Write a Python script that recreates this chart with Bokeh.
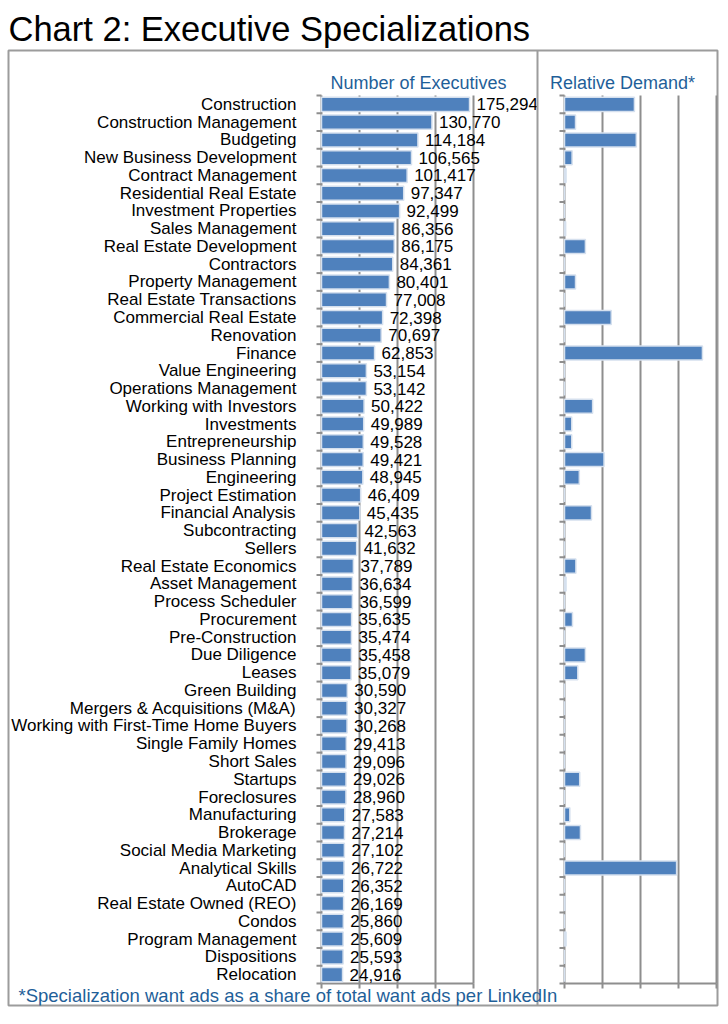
import math
from bokeh.plotting import figure
from bokeh.models import Range1d, Label, Span
from bokeh.embed import file_html
from bokeh.resources import INLINE
from bokeh.core.properties import value

# ---------------- data ----------------
categories = [
    "Construction", "Construction Management", "Budgeting", "New Business Development",
    "Contract Management", "Residential Real Estate", "Investment Properties",
    "Sales Management", "Real Estate Development", "Contractors", "Property Management",
    "Real Estate Transactions", "Commercial Real Estate", "Renovation", "Finance",
    "Value Engineering", "Operations Management", "Working with Investors", "Investments",
    "Entrepreneurship", "Business Planning", "Engineering", "Project Estimation",
    "Financial Analysis", "Subcontracting", "Sellers", "Real Estate Economics",
    "Asset Management", "Process Scheduler", "Procurement", "Pre-Construction",
    "Due Diligence", "Leases", "Green Building", "Mergers & Acquisitions (M&A)",
    "Working with First-Time Home Buyers", "Single Family Homes", "Short Sales",
    "Startups", "Foreclosures", "Manufacturing", "Brokerage", "Social Media Marketing",
    "Analytical Skills", "AutoCAD", "Real Estate Owned (REO)", "Condos",
    "Program Management", "Dispositions", "Relocation",
]
executives = [
    175294, 130770, 114184, 106565, 101417, 97347, 92499, 86356, 86175, 84361,
    80401, 77008, 72398, 70697, 62853, 53154, 53142, 50422, 49989, 49528,
    49421, 48945, 46409, 45435, 42563, 41632, 37789, 36634, 36599, 35635,
    35474, 35458, 35079, 30590, 30327, 30268, 29413, 29096, 29026, 28960,
    27583, 27214, 27102, 26722, 26352, 26169, 25860, 25609, 25593, 24916,
]
relative_demand = [
    1.84, 0.29, 1.89, 0.20, 0.04, 0.0, 0.0, 0.03, 0.55, 0.0,
    0.29, 0.0, 1.23, 0.0, 3.63, 0.0, 0.0, 0.74, 0.19, 0.19,
    1.04, 0.39, 0.0, 0.71, 0.0, 0.0, 0.30, 0.04, 0.0, 0.21,
    0.0, 0.55, 0.35, 0.0, 0.0, 0.0, 0.0, 0.0, 0.40, 0.0,
    0.14, 0.42, 0.0, 2.95, 0.0, 0.01, 0.0, 0.04, 0.0, 0.0,
]
exec_ticks = [45000, 90000, 135000, 180000]
demand_ticks = [1, 2, 3, 4]

title_text = "Chart 2: Executive Specializations"
left_heading = "Number of Executives"
right_heading = "Relative Demand*"
footnote = "*Specialization want ads as a share of total want ads per LinkedIn"

# ---------------- layout (pixels, page coordinates) ----------------
PAGE_X, PAGE_Y = 0, 0       # canvas origin on the page
W, H = 720, 1012
BL, BR, BT, BB = 8, 3, 50, 7
FRAME_W = W - BL - BR
FRAME_H = H - BT - BB
FRAME_X0 = PAGE_X + BL
FRAME_Y0 = PAGE_Y + BT
LEFT_ZERO = 321 - FRAME_X0
EXEC_PX = 152 / 180000.0
DEM_ZERO = 564 - FRAME_X0
DEM_PX = 38.0
ROWS_TOP = 95 - FRAME_Y0
ROW_H = 17.76

n = len(categories)
centers = [i + 0.5 for i in range(n)]
bounds = list(range(n + 1))


def px_exec(page_x):
    return (page_x - FRAME_X0 - LEFT_ZERO) / EXEC_PX


def px_row(page_y):
    return (page_y - FRAME_Y0 - ROWS_TOP) / ROW_H


x_range = Range1d(-LEFT_ZERO / EXEC_PX, (FRAME_W - LEFT_ZERO) / EXEC_PX)
y_range = Range1d((FRAME_H - ROWS_TOP) / ROW_H, -ROWS_TOP / ROW_H)

p = figure(width=W, height=H, x_range=x_range, y_range=y_range,
           x_axis_type=None, y_axis_type=None,
           output_backend="svg", toolbar_location=None)
p.extra_x_ranges = {"demand": Range1d(-DEM_ZERO / DEM_PX, (FRAME_W - DEM_ZERO) / DEM_PX)}
p.min_border_left = BL
p.min_border_right = BR
p.min_border_top = BT
p.min_border_bottom = BB
p.outline_line_color = "#9C9C9C"
p.outline_line_width = 2
p.background_fill_color = "white"
p.border_fill_color = "white"

p.title.text = title_text
p.title.text_font = "Liberation Sans"
p.title.text_font_size = "34.5px"
p.title.text_font_style = "normal"
p.title.text_color = "black"
p.title.standoff = 5
p.title.offset = 0

FONT = value("Liberation Sans")
GRID = "#8E8E8E"
BAR = "#4F81BD"
BAR_EDGE = "#D5E0EE"
BLUE_TXT = "#1F5F99"

# divider between panels
p.add_layout(Span(location=px_exec(537), dimension="height",
                  line_color="#9C9C9C", line_width=2))

# gridlines
p.segment(x0=exec_ticks, x1=exec_ticks, y0=0, y1=n, line_color=GRID, line_width=2)
p.segment(x0=demand_ticks, x1=demand_ticks, y0=0, y1=n, line_color=GRID, line_width=2,
          x_range_name="demand")

# axis lines
p.segment(x0=[0, 0], x1=[0, exec_ticks[-1]], y0=[0, n], y1=[n, n], line_color=GRID, line_width=2)
p.segment(x0=[0, 0], x1=[0, demand_ticks[-1]], y0=[0, n], y1=[n, n], line_color=GRID,
          line_width=2, x_range_name="demand")

# tick marks
p.ray(x=0, y=bounds, length=5, length_units="screen", angle=math.pi,
      line_color=GRID, line_width=2)
p.ray(x=0, y=bounds, length=5, length_units="screen", angle=math.pi,
      line_color=GRID, line_width=2, x_range_name="demand")
p.ray(x=[0] + exec_ticks, y=n, length=5, length_units="screen", angle=-math.pi / 2,
      line_color=GRID, line_width=2)
p.ray(x=[0] + demand_ticks, y=n, length=5, length_units="screen", angle=-math.pi / 2,
      line_color=GRID, line_width=2, x_range_name="demand")

# bars
p.hbar(y=centers, left=0, right=executives, height=0.79,
       fill_color=BAR, line_color=BAR_EDGE, line_width=1.5)
p.hbar(y=centers, left=0, right=relative_demand, height=0.79,
       fill_color=BAR, line_color=BAR_EDGE, line_width=1.5, x_range_name="demand")

# value labels
p.text(x=executives, y=centers, text=[f"{v:,}" for v in executives],
       x_offset=7, text_baseline="middle", text_align="left",
       text_font=FONT, text_font_size="17px", text_color="black")

# category labels
p.text(x=[0] * n, y=centers, text=categories, x_offset=-25,
       text_baseline="middle", text_align="right",
       text_font=FONT, text_font_size="17px", text_color="black")

# headings and footnote
p.add_layout(Label(x=px_exec(418), y=px_row(82), text=left_heading,
                   text_align="center", text_baseline="middle",
                   text_font="Liberation Sans", text_font_size="18px", text_color=BLUE_TXT))
p.add_layout(Label(x=px_exec(622), y=px_row(82), text=right_heading,
                   text_align="center", text_baseline="middle",
                   text_font="Liberation Sans", text_font_size="18px", text_color=BLUE_TXT))
p.add_layout(Label(x=px_exec(18), y=px_row(995), text=footnote,
                   text_align="left", text_baseline="middle",
                   text_font="Liberation Sans", text_font_size="18.5px", text_color=BLUE_TXT))

open("out.html", "w").write(file_html(p, INLINE))
